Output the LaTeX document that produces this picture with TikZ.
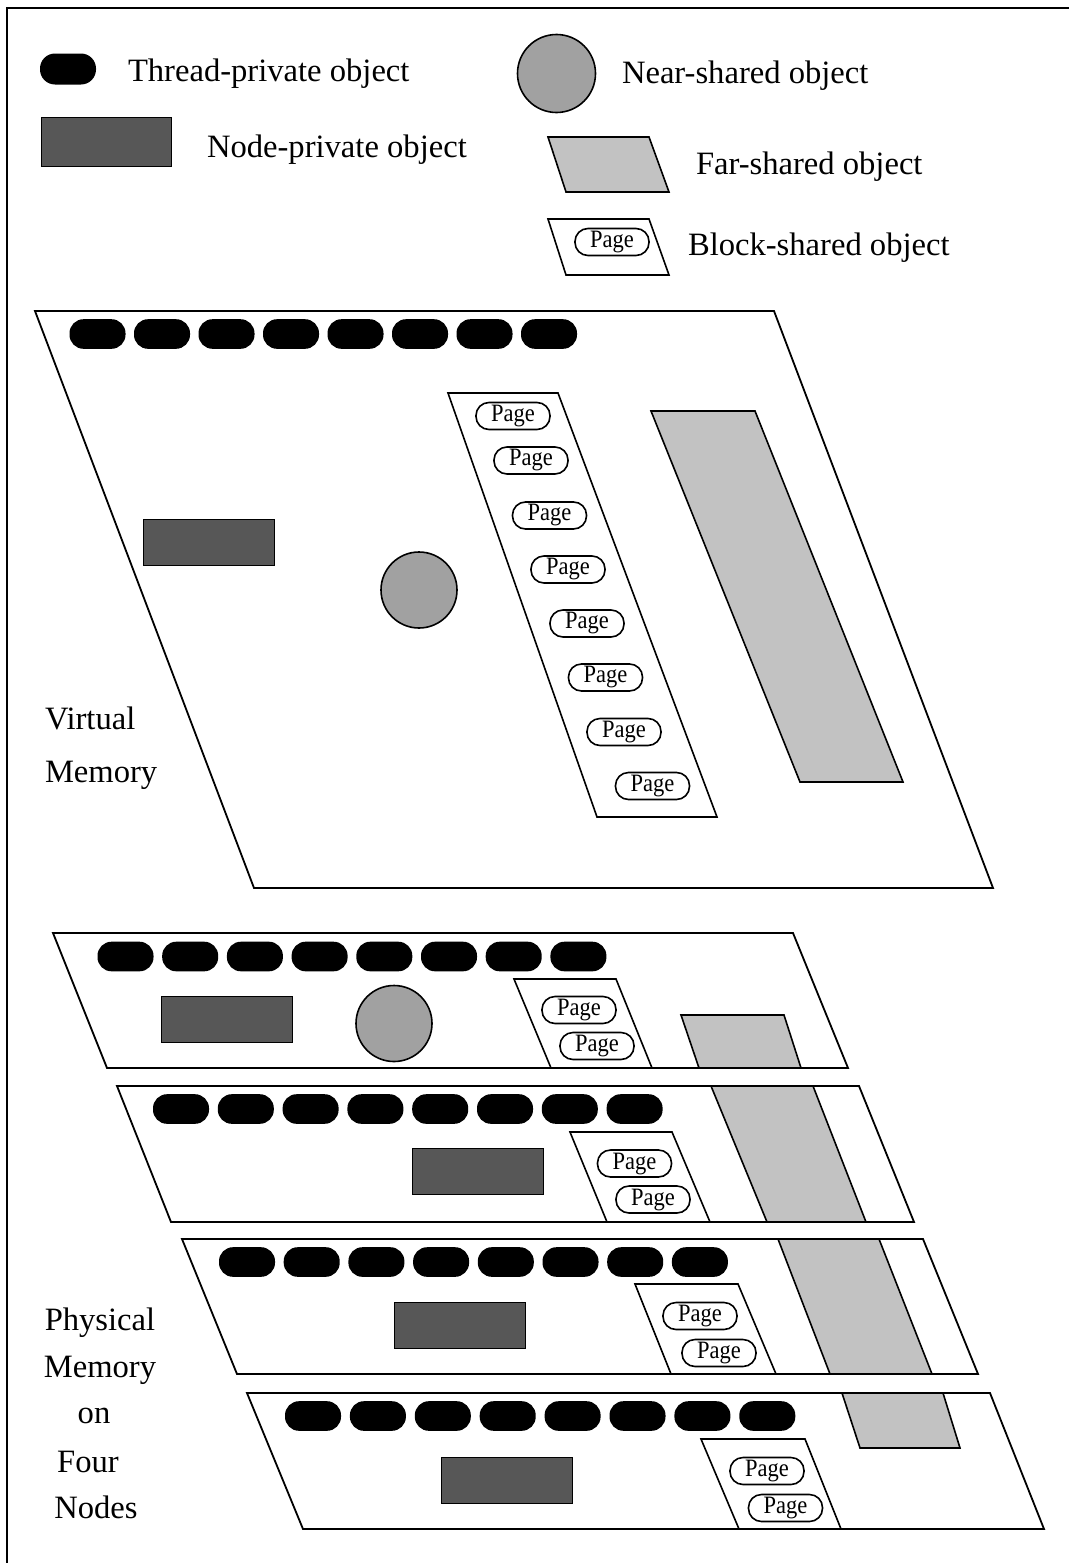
\documentclass[tikz,border=0pt]{standalone}
\usepackage{fontspec}
\setmainfont{Liberation Serif}
\definecolor{npcol}{gray}{0.34}
\definecolor{nearcol}{gray}{0.63}
\definecolor{farcol}{gray}{0.76}
\newcommand{\pagetxt}{\scalebox{0.9}[1]{Page}\hspace{6pt}}
\begin{document}
\begin{tikzpicture}[x=0.5pt,y=-0.5pt,
  every node/.style={inner sep=0pt, outer sep=0pt},
  thread/.style={fill=black, rounded corners=7pt, minimum width=28pt, minimum height=14.8pt},
  pagepill/.style={draw, line width=0.8pt, fill=white, rounded corners=6.5pt,
    minimum width=37pt, minimum height=13.5pt, font=\fontsize{12.5}{13}\selectfont},
  nodepriv/.style={fill=npcol, draw=black, line width=0.5pt, minimum width=65.5pt, minimum height=23pt},
  nearsh/.style={circle, fill=nearcol, draw, line width=0.8pt, minimum size=38pt},
  farsh/.style={fill=farcol, draw, line width=0.8pt},
  memplane/.style={draw, line width=0.9pt, fill=white},
  blockstrip/.style={draw, line width=0.8pt, fill=white},
  lbl/.style={font=\fontsize{16.3}{19}\selectfont, anchor=base west},
  clbl/.style={font=\fontsize{16.3}{19}\selectfont, anchor=base},
]
\useasboundingbox (0,0) rectangle (1069,1563);
% frame
\draw[line width=1pt] (1069,8) -- (7,8) -- (7,1563);

% ---------- legend ----------
\node[thread, minimum height=15.5pt, rounded corners=7.5pt] (lgthread) at (68,69) {};
\node[lbl] (lgthreadtxt) at (128,81) {Thread-private object};
\node[nodepriv, minimum width=65pt, minimum height=24.5pt] (lgnp) at (106,141.5) {};
\node[lbl] (lgnptxt) at (207,157) {Node-private object};
\node[nearsh, minimum size=39pt] (lgnear) at (556.5,73.5) {};
\node[lbl] (lgneartxt) at (622,83) {Near-shared object};
\draw[farsh] (548,137) -- (649,137) -- (669,192) -- (566,192) -- cycle;
\node[lbl] (lgfartxt) at (696,174) {Far-shared object};
\draw[blockstrip] (548,219) -- (649,219) -- (669,275) -- (566,275) -- cycle;
\node[pagepill] (lgpage) at (612,242) {\pagetxt};
\node[lbl] (lgblocktxt) at (688,255) {Block-shared object};

% ---------- virtual memory ----------
\draw[memplane] (35,311) -- (774,311) -- (993,888) -- (254,888) -- cycle;
\draw[blockstrip] (448,393) -- (558,393) -- (717,817) -- (597,817) -- cycle;
\draw[farsh] (651,411) -- (755,411) -- (903,782) -- (800,782) -- cycle;
\foreach \i in {0,...,7} {
  \node[thread] (vt\i) at ({97.5+64.5*\i},334) {};
}
\node[nodepriv] (vnp) at (208.5,542) {};
\node[nearsh] (vnear) at (419,590) {};
\foreach \x/\y [count=\k] in {513/416,531/460.5,549.5/515.5,568/569.5,587/623.5,605.5/677.5,624/732,652.5/786} {
  \node[pagepill] (vp\k) at (\x,\y) {\pagetxt};
}
\node[lbl] (vlbl1) at (45,729) {Virtual};
\node[lbl] (vlbl2) at (45,782) {Memory};

% ---------- physical node 1 ----------
\draw[memplane] (53,933) -- (793,933) -- (848,1068) -- (107,1068) -- cycle;
\draw[blockstrip] (514,979) -- (616,979) -- (652,1068) -- (551,1068) -- cycle;
\draw[farsh] (681,1015) -- (784,1015) -- (801,1068) -- (699,1068) -- cycle;
\foreach \i in {0,...,7} {
  \node[thread] (at\i) at ({125.5+64.7*\i},956.5) {};
}
\node[nodepriv] (anp) at (227,1019) {};
\node[nearsh] (anear) at (394,1023.5) {};
\node[pagepill] (ap1) at (579,1010) {\pagetxt};
\node[pagepill] (ap2) at (597,1046) {\pagetxt};

% ---------- physical node 2 ----------
\draw[memplane] (117,1086) -- (859,1086) -- (914,1222) -- (171,1222) -- cycle;
\draw[blockstrip] (570,1132) -- (672,1132) -- (710,1222) -- (607,1222) -- cycle;
\draw[farsh] (711,1086) -- (813,1086) -- (866,1222) -- (767,1222) -- cycle;
\foreach \i in {0,...,7} {
  \node[thread] (bt\i) at ({181+64.8*\i},1109) {};
}
\node[nodepriv] (bnp) at (477.5,1171.5) {};
\node[pagepill] (bp1) at (634.5,1163.5) {\pagetxt};
\node[pagepill] (bp2) at (653,1199.5) {\pagetxt};

% ---------- physical node 3 ----------
\draw[memplane] (182,1239) -- (923,1239) -- (978,1374) -- (237,1374) -- cycle;
\draw[blockstrip] (635,1284) -- (738,1284) -- (776,1374) -- (671,1374) -- cycle;
\draw[farsh] (778,1239) -- (879,1239) -- (932,1374) -- (830,1374) -- cycle;
\foreach \i in {0,...,7} {
  \node[thread] (ct\i) at ({247+64.7*\i},1262) {};
}
\node[nodepriv] (cnp) at (459.5,1325) {};
\node[pagepill] (cp1) at (700,1316) {\pagetxt};
\node[pagepill] (cp2) at (719,1353) {\pagetxt};

% ---------- physical node 4 ----------
\draw[memplane] (247,1393) -- (990,1393) -- (1044,1529) -- (303,1529) -- cycle;
\draw[blockstrip] (701,1439) -- (805,1439) -- (841,1529) -- (739,1529) -- cycle;
\draw[farsh] (842,1393) -- (943,1393) -- (960,1448) -- (860,1448) -- cycle;
\foreach \i in {0,...,7} {
  \node[thread] (dt\i) at ({313+64.9*\i},1416) {};
}
\node[nodepriv] (dnp) at (507,1480) {};
\node[pagepill] (dp1) at (767,1471) {\pagetxt};
\node[pagepill] (dp2) at (785.5,1508) {\pagetxt};

% ---------- physical memory label ----------
\node[clbl] (plbl1) at (100,1330) {Physical};
\node[clbl] (plbl2) at (100,1377) {Memory};
\node[clbl] (plbl3) at (94,1423) {on};
\node[clbl] (plbl4) at (88,1472) {Four};
\node[clbl] (plbl5) at (96,1518) {Nodes};
\end{tikzpicture}
\end{document}
